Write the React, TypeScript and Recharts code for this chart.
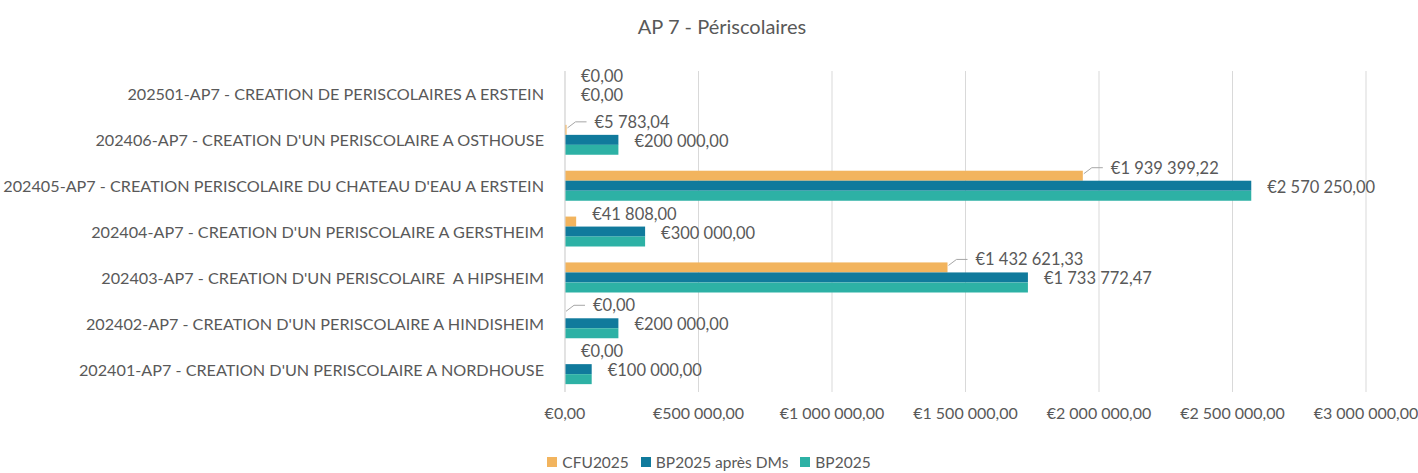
import React from 'react';
import {
  BarChart,
  Bar,
  XAxis,
  YAxis,
  CartesianGrid,
} from 'recharts';

const categories = [
  '202501-AP7 - CREATION DE PERISCOLAIRES A ERSTEIN',
  "202406-AP7 - CREATION D'UN PERISCOLAIRE A OSTHOUSE",
  "202405-AP7 - CREATION PERISCOLAIRE DU CHATEAU D'EAU A ERSTEIN",
  "202404-AP7 - CREATION D'UN PERISCOLAIRE A GERSTHEIM",
  "202403-AP7 - CREATION D'UN PERISCOLAIRE  A HIPSHEIM",
  "202402-AP7 - CREATION D'UN PERISCOLAIRE A HINDISHEIM",
  "202401-AP7 - CREATION D'UN PERISCOLAIRE A NORDHOUSE",
];
const cfu2025 = [0, 5783.04, 1939399.22, 41808, 1432621.33, 0, 0];
const bp2025ApresDMs = [0, 200000, 2570250, 300000, 1733772.47, 200000, 100000];
const bp2025 = [0, 200000, 2570250, 300000, 1733772.47, 200000, 100000];
const xTicks = [0, 500000, 1000000, 1500000, 2000000, 2500000, 3000000];

const chartData = categories.map((name, i) => ({
  name,
  cfu: cfu2025[i],
  bpDm: bp2025ApresDMs[i],
  bp: bp2025[i],
}));

const FONT = 'Lato, Carlito, sans-serif';
const TEXT = '#595959';
const COLORS = { cfu: '#F2B45E', bpDm: '#107A9C', bp: '#2DB1A5' };
const LABEL_SIZE = 16.5;

// Excel moved these CFU labels and drew a leader line
const leaderIdx = new Set([1, 2, 4, 5]);

const formatEuro = (value: number) => {
  const [int, dec] = Math.abs(value).toFixed(2).split('.');
  const grouped = int.replace(/\B(?=(\d{3})+(?!\d))/g, ' ');
  return `€${grouped},${dec}`;
};

// bar + its data label, drawn in the shape so zero-width bars still get a label
const CfuShape = (props: any) => {
  const { x, y, width, height, index, payload } = props;
  const end = x + width;
  const mid = y + height / 2;
  const cy = mid - 8;
  const lead = leaderIdx.has(index);
  const tx = end + (lead ? 28 : 16);
  return (
    <g>
      {width > 0 && <rect x={x} y={y} width={width} height={height} fill={COLORS.cfu} />}
      {lead && (
        <polyline
          points={`${end + 1},${mid - 2} ${end + 9},${cy} ${tx - 8},${cy}`}
          fill="none"
          stroke="#a6a6a6"
          strokeWidth={1}
        />
      )}
      <text x={tx} y={cy} dominantBaseline="central" fill={TEXT} fontSize={LABEL_SIZE} fontFamily={FONT}>
        {formatEuro(payload.cfu)}
      </text>
    </g>
  );
};

const BpDmShape = (props: any) => {
  const { x, y, width, height, payload } = props;
  return (
    <g>
      {width > 0 && <rect x={x} y={y} width={width} height={height} fill={COLORS.bpDm} />}
      <text
        x={x + width + 16}
        y={y + height / 2 + 1}
        dominantBaseline="central"
        fill={TEXT}
        fontSize={LABEL_SIZE}
        fontFamily={FONT}
      >
        {formatEuro(payload.bpDm)}
      </text>
    </g>
  );
};

// keeps the double space of one project name
const CategoryTick = (props: any) => {
  const { x, y, payload } = props;
  return (
    <text
      x={x - 19}
      y={y}
      textAnchor="end"
      dominantBaseline="central"
      fill={TEXT}
      fontSize={16.2}
      fontFamily={FONT}
      xmlSpace="preserve"
      style={{ whiteSpace: 'pre' }}
    >
      {payload.value}
    </text>
  );
};

const legendItems = [
  { key: 'cfu', label: 'CFU2025' },
  { key: 'bpDm', label: 'BP2025 après DMs' },
  { key: 'bp', label: 'BP2025' },
];

export default function App() {
  return (
    <div style={{ width: 1418, height: 473, position: 'relative', background: '#fff' }}>
      <style>{`body{margin:0}`}</style>
      <div
        style={{
          position: 'absolute',
          top: 14,
          left: 13,
          width: 1418,
          textAlign: 'center',
          fontFamily: FONT,
          fontSize: 20,
          color: TEXT,
        }}
      >
        AP 7 - Périscolaires
      </div>
      <BarChart
        width={1418}
        height={473}
        data={chartData}
        layout="vertical"
        margin={{ top: 71, right: 52, bottom: 51, left: 0 }}
        barSize={10}
        barGap={0}
      >
        <CartesianGrid horizontal={false} stroke="#d9d9d9" />
        <XAxis
          type="number"
          domain={[0, 3000000]}
          ticks={xTicks}
          tickFormatter={formatEuro}
          axisLine={false}
          tickLine={false}
          tick={{ fill: TEXT, fontSize: 16, fontFamily: FONT }}
          tickMargin={10}
          height={30}
          interval={0}
        />
        <YAxis
          type="category"
          dataKey="name"
          width={565}
          axisLine={{ stroke: '#d9d9d9' }}
          tickLine={false}
          tickSize={0}
          tick={<CategoryTick />}
          interval={0}
        />
        <Bar dataKey="cfu" name="CFU2025" fill={COLORS.cfu} shape={CfuShape} isAnimationActive={false} />
        <Bar dataKey="bpDm" name="BP2025 après DMs" fill={COLORS.bpDm} shape={BpDmShape} isAnimationActive={false} />
        <Bar dataKey="bp" name="BP2025" fill={COLORS.bp} isAnimationActive={false} />
      </BarChart>
      <div
        style={{
          position: 'absolute',
          top: 453,
          left: 0,
          width: 1418,
          display: 'flex',
          justifyContent: 'center',
          gap: 12,
          fontFamily: FONT,
          fontSize: 15.5,
          color: TEXT,
        }}
      >
        {legendItems.map((it) => (
          <div key={it.key} style={{ display: 'flex', alignItems: 'center', gap: 5 }}>
            <span style={{ width: 10, height: 10, background: (COLORS as any)[it.key], display: 'inline-block' }} />
            <span>{it.label}</span>
          </div>
        ))}
      </div>
    </div>
  );
}
